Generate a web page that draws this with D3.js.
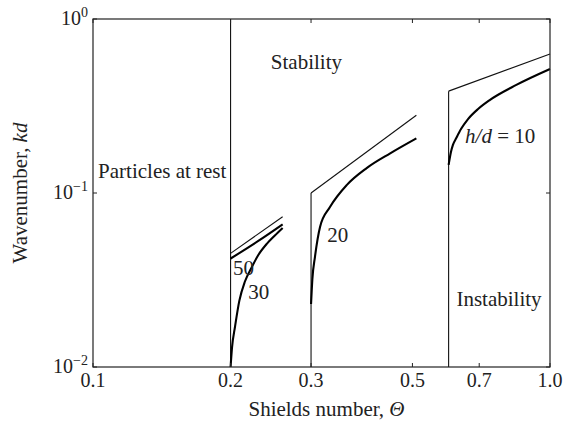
<!DOCTYPE html>
<html>
<head>
<meta charset="utf-8">
<script src="https://cdn.jsdelivr.net/npm/d3@7"></script>
<style>
  body { margin: 0; background: #fff; }
  svg text { font-family: "Liberation Serif", "Times New Roman", serif; fill: #222; }
</style>
</head>
<body>
<svg id="chart" width="566" height="428"></svg>
<script>
// axis ticks
const xTicks = [0.1, 0.2, 0.3, 0.5, 0.7, 1.0];
const xTickLabels = ["0.1", "0.2", "0.3", "0.5", "0.7", "1.0"];
const yTicks = [0.01, 0.1, 1];
const yTickExp = ["\u22122", "\u22121", "0"];

// regime walls (theta) and how high they go (kd)
const wallTheta = [0.2, 0.3, 0.6];
const wallTop = [1.0, 0.1, 0.385];

// thin upper bounds
const upperTheta1 = [0.2, 0.26];
const upperKd1 = [0.045, 0.073];
const upperTheta2 = [0.3, 0.51];
const upperKd2 = [0.1, 0.28];
const upperTheta3 = [0.6, 1.0];
const upperKd3 = [0.385, 0.63];

// thick curves, h/d = 50, 30, 20, 10
const theta50 = [0.2, 0.23, 0.26];
const kd50 = [0.042, 0.053, 0.066];
const theta30 = [0.2, 0.2015, 0.2045, 0.209, 0.215, 0.222, 0.23, 0.24, 0.25, 0.26];
const kd30 = [0.01, 0.013, 0.017, 0.024, 0.031, 0.037, 0.044, 0.051, 0.057, 0.063];
const theta20 = [0.3, 0.302, 0.306, 0.314, 0.33, 0.359, 0.397, 0.447, 0.51];
const kd20 = [0.023, 0.032, 0.043, 0.064, 0.083, 0.111, 0.139, 0.169, 0.206];
const theta10 = [0.6, 0.6071, 0.6132, 0.6237, 0.6386, 0.6616, 0.696, 0.738, 0.844, 1.0];
const kd10 = [0.145, 0.172, 0.189, 0.207, 0.233, 0.266, 0.304, 0.342, 0.418, 0.516];

// annotations, anchored in data space
const noteText = ["Particles at rest", "Stability", "Instability", "20", "50", "30"];
const noteTheta = [0.1026, 0.245, 0.624, 0.3257, 0.2024, 0.2187];
const noteKd = [0.1215, 0.516, 0.0225, 0.0525, 0.0338, 0.0245];

let margin = { top: 19, right: 16, bottom: 61, left: 93 };
let W = 566, H = 428;

let svg = d3.select("#chart");

let x = d3.scaleLog().domain([0.1, 1]).range([margin.left, W - margin.right]);
let y = d3.scaleLog().domain([0.01, 1]).range([H - margin.bottom, margin.top]);

let zip = (a, b) => a.map((v, i) => [v, b[i]]);

let line = d3.line()
    .x(d => x(d[0]))
    .y(d => y(d[1]));

let curve = d3.line()
    .curve(d3.curveMonotoneX)
    .x(d => x(d[0]))
    .y(d => y(d[1]));

let g = svg.append("g");

// walls
wallTheta.forEach((t, i) => {
    g.append("path")
        .attr("d", line([[t, 0.01], [t, wallTop[i]]]))
        .attr("fill", "none")
        .attr("stroke", "#111")
        .attr("stroke-width", 1.1);
});

// thin bounds
[[upperTheta1, upperKd1], [upperTheta2, upperKd2], [upperTheta3, upperKd3]].forEach(p => {
    g.append("path")
        .attr("d", line(zip(p[0], p[1])))
        .attr("fill", "none")
        .attr("stroke", "#111")
        .attr("stroke-width", 1.1);
});

// thick curves
[[theta50, kd50], [theta30, kd30], [theta20, kd20], [theta10, kd10]].forEach(p => {
    g.append("path")
        .attr("d", curve(zip(p[0], p[1])))
        .attr("fill", "none")
        .attr("stroke", "#000")
        .attr("stroke-width", 2.1)
        .attr("stroke-linejoin", "round");
});

// frame
let x0 = x.range()[0], x1 = x.range()[1], y0 = y.range()[0], y1 = y.range()[1];
svg.append("rect")
    .attr("x", x0)
    .attr("y", y1)
    .attr("width", x1 - x0)
    .attr("height", y0 - y1)
    .attr("fill", "none")
    .attr("stroke", "#222")
    .attr("stroke-width", 1.2);

// inward ticks
let tl = 4;
xTicks.forEach(t => {
    svg.append("line").attr("x1", x(t)).attr("x2", x(t)).attr("y1", y0).attr("y2", y0 - tl)
        .attr("stroke", "#222");
    svg.append("line").attr("x1", x(t)).attr("x2", x(t)).attr("y1", y1).attr("y2", y1 + tl)
        .attr("stroke", "#222");
});
yTicks.forEach(t => {
    svg.append("line").attr("x1", x0).attr("x2", x0 + tl).attr("y1", y(t)).attr("y2", y(t))
        .attr("stroke", "#222");
    svg.append("line").attr("x1", x1).attr("x2", x1 - tl).attr("y1", y(t)).attr("y2", y(t))
        .attr("stroke", "#222");
});

// tick labels
svg.selectAll(".xlab")
    .data(xTicks)
    .enter()
    .append("text")
    .attr("class", "xlab")
    .attr("x", d => x(d))
    .attr("y", y0 + 20)
    .attr("text-anchor", "middle")
    .style("font-size", "20px")
    .text((d, i) => xTickLabels[i]);

let ylab = svg.selectAll(".ylab")
    .data(yTicks)
    .enter()
    .append("text")
    .attr("class", "ylab")
    .attr("x", x0 - 5)
    .attr("y", d => y(d) + 6)
    .attr("text-anchor", "end")
    .style("font-size", "20px");
ylab.append("tspan").text("10");
ylab.append("tspan")
    .attr("dy", -8)
    .style("font-size", "14px")
    .text((d, i) => yTickExp[i]);

// axis titles
let xt = svg.append("text")
    .attr("x", (x0 + x1) / 2 + 5)
    .attr("y", 416)
    .attr("text-anchor", "middle")
    .style("font-size", "21px");
xt.append("tspan").text("Shields number, ");
xt.append("tspan").style("font-style", "italic").text("\u0398");

let yt = svg.append("text")
    .attr("transform", `translate(27, ${(y0 + y1) / 2}) rotate(-90)`)
    .attr("text-anchor", "middle")
    .style("font-size", "21px");
yt.append("tspan").text("Wavenumber, ");
yt.append("tspan").style("font-style", "italic").text("kd");

// notes
noteText.forEach((s, i) => {
    svg.append("text")
        .attr("x", x(noteTheta[i]))
        .attr("y", y(noteKd[i]))
        .style("font-size", "21px")
        .text(s);
});

let hd = svg.append("text")
    .attr("x", x(0.652))
    .attr("y", y(0.1946))
    .style("font-size", "21px");
hd.append("tspan").style("font-style", "italic").text("h/d");
hd.append("tspan").text(" = 10");
</script>
</body>
</html>
